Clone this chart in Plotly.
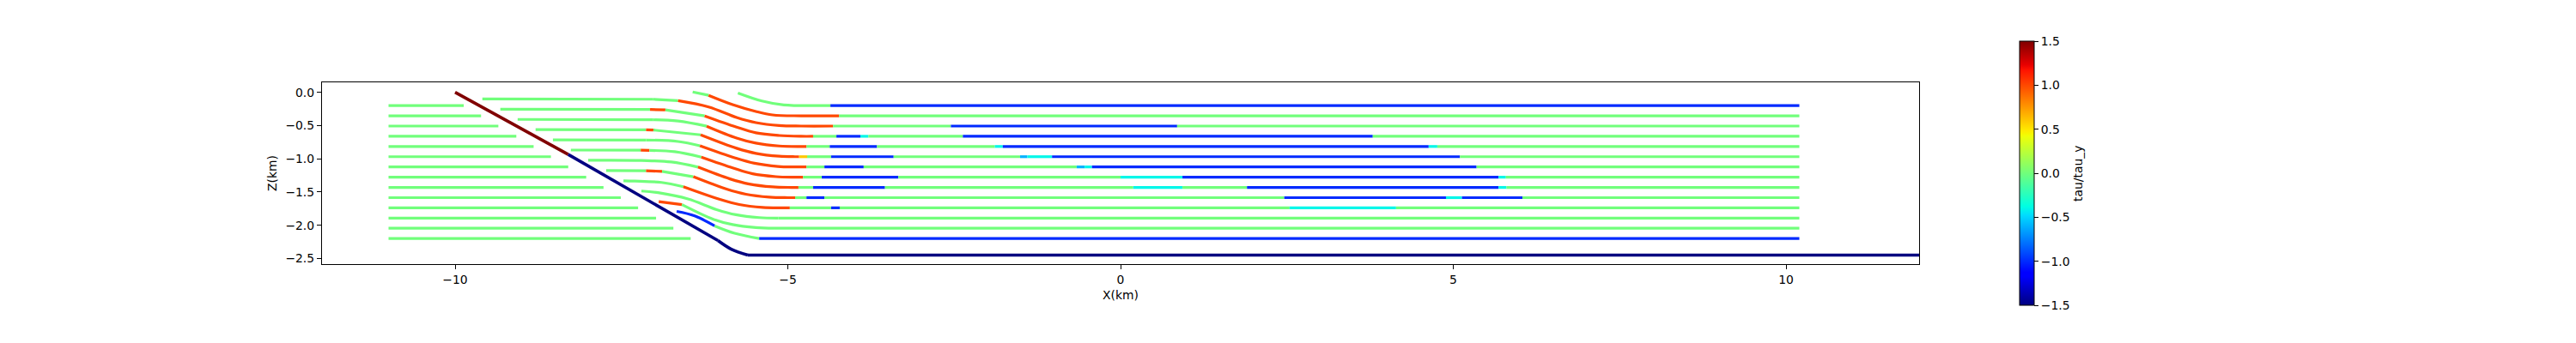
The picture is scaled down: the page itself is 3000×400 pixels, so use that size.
import plotly.graph_objects as go
from plotly.colors import sample_colorscale

# footwall layers, left of the ramp
footwall_z = [-0.2, -0.354, -0.508, -0.662, -0.815, -0.969, -1.123, -1.277, -1.431, -1.585, -1.738, -1.892, -2.046, -2.2]
footwall_x0 = -11.0
footwall_end = [-9.87, -9.61, -9.35, -9.08, -8.82, -8.56, -8.30, -8.03, -7.77, -7.51, -7.25, -6.98, -6.72, -6.46]

# hanging wall layers: tau[n] belongs to the stretch from point n to point n+1
a_x = [-5.75, -5.39, -5.06, -4.45, -4.36, 10.2]
a_z = [-0.01, -0.13, -0.19, -0.2, -0.2, -0.2]
a_t = [0, 0, 0, 0, -1, -1]
b_x = [-6.43, -6.19, -5.83, -5.48, -5.23, -4.8, -4.23, 10.2]
b_z = [0.005, -0.046, -0.185, -0.288, -0.34, -0.354, -0.354, -0.354]
b_t = [0, 1, 1, 1, 1, 1, 0, 0]
c_x = [-9.59, -7.03, -6.65, -6.19, -5.77, -5.48, -5.13, -4.8, -4.32, -2.55, 0.85, 10.2]
c_z = [-0.1, -0.105, -0.125, -0.22, -0.38, -0.457, -0.5, -0.508, -0.508, -0.508, -0.508, -0.508]
c_t = [0, 0, 1, 1, 1, 1, 1, 1, 0, -1, 0, 0]
d_x = [-9.32, -7.07, -6.84, -6.25, -5.78, -5.48, -5.13, -4.8, -4.62, -4.27, -3.91, -3.79, -2.37, 3.79, 10.2]
d_z = [-0.254, -0.258, -0.265, -0.355, -0.52, -0.61, -0.65, -0.662, -0.662, -0.662, -0.662, -0.662, -0.662, -0.662, -0.662]
d_t = [0, 1, 0, 1, 1, 1, 1, 1, 0, -1, -0.4, 0, -1, 0, 0]
e_x = [-9.06, -7.03, -6.65, -6.22, -5.77, -5.48, -5.13, -4.8, -4.72, -4.37, -3.66, -1.89, -1.77, 4.63, 4.76, 10.2]
e_z = [-0.408, -0.413, -0.433, -0.51, -0.688, -0.765, -0.808, -0.815, -0.815, -0.815, -0.815, -0.815, -0.815, -0.815, -0.815, -0.815]
e_t = [0, 0, 0, 1, 1, 1, 1, 1, 0, -1, 0, -0.4, -1, -0.4, 0, 0]
f_x = [-8.79, -7.13, -7.02, -6.31, -5.77, -5.48, -5.13, -4.89, -4.83, -4.71, -4.35, -3.41, -1.51, -1.40, -1.03, 5.1, 10.2]
f_z = [-0.562, -0.565, -0.568, -0.64, -0.842, -0.919, -0.962, -0.969, -0.969, -0.969, -0.969, -0.969, -0.969, -0.969, -0.969, -0.969, -0.969]
f_t = [0, 1, 0, 1, 1, 1, 1, 1, 0.6, 0, -1, 0, -0.6, -0.4, -1, 0, 0]
g_x = [-8.53, -7.13, -6.65, -6.32, -5.8, -5.5, -5.15, -4.9, -4.72, -4.45, -3.86, -0.66, -0.54, -0.43, 5.35, 10.2]
g_z = [-0.715, -0.718, -0.74, -0.805, -0.985, -1.068, -1.115, -1.123, -1.123, -1.123, -1.123, -1.123, -1.123, -1.123, -1.123, -1.123]
g_t = [0, 0, 0, 1, 1, 1, 1, 1, 0, -1, 0, -0.6, -0.4, -1, 0, 0]
h_x = [-8.26, -7.21, -7.08, -6.7, -6.3, -5.82, -5.53, -5.18, -4.9, -4.77, -4.49, -3.34, 0.0, 0.93, 5.68, 5.79, 10.2]
h_z = [-0.869, -0.871, -0.874, -0.894, -0.975, -1.14, -1.226, -1.269, -1.277, -1.277, -1.277, -1.277, -1.277, -1.277, -1.277, -1.277, -1.277]
h_t = [0, 1, 0, 0, 1, 1, 1, 1, 1, 0, -1, 0, -0.4, -1, -0.4, 0, 0]
i_x = [-8.0, -7.2, -6.75, -6.35, -5.87, -5.58, -5.23, -4.95, -4.84, -4.62, -3.54, 0.19, 0.93, 1.9, 5.68, 5.8, 10.2]
i_z = [-1.023, -1.026, -1.048, -1.125, -1.303, -1.38, -1.423, -1.431, -1.431, -1.431, -1.431, -1.431, -1.431, -1.431, -1.431, -1.431, -1.431]
i_t = [0, 0, 0, 1, 1, 1, 1, 1, 0, -1, 0, -0.4, 0, -1, -0.4, 0, 0]
j_x = [-7.73, -7.13, -6.89, -6.42, -5.92, -5.63, -5.28, -5.0, -4.89, -4.72, -4.45, 2.46, 4.89, 5.13, 6.04, 10.2]
j_z = [-1.177, -1.18, -1.19, -1.27, -1.457, -1.534, -1.577, -1.585, -1.585, -1.585, -1.585, -1.585, -1.585, -1.585, -1.585, -1.585]
j_t = [0, 1, 0, 1, 1, 1, 1, 1, 0, -1, 0, -1, -0.4, -1, 0, 0]
k_x = [-7.47, -7.3, -6.9, -6.57, -6.02, -5.73, -5.38, -5.1, -4.97, -4.35, -4.22, 2.54, 4.14, 10.2]
k_z = [-1.331, -1.335, -1.356, -1.42, -1.611, -1.688, -1.731, -1.738, -1.738, -1.738, -1.738, -1.738, -1.738, -1.738]
k_t = [0, 0, 0, 1, 1, 1, 1, 1, 0, -1, 0, -0.4, 0, 0]
l_x = [-7.2, -6.95, -6.5, -6.07, -5.78, -5.43, -5.14, 10.2]
l_z = [-1.485, -1.51, -1.605, -1.765, -1.842, -1.885, -1.892, -1.892]
l_t = [0, 0, 0, 0, 0, 0, 0, 0]
m_x = [-6.94, -6.59, -6.12, -5.83, -5.48, -5.2, 10.2]
m_z = [-1.645, -1.69, -1.91, -1.99, -2.035, -2.046, -2.046]
m_t = [1, 0, 0, 0, 0, 0, 0]
n_x = [-6.67, -6.4, -6.1, -5.8, -5.43, 10.2]
n_z = [-1.792, -1.86, -2.01, -2.12, -2.2, -2.2]
n_t = [-1, -1, 0, 0, -1, -1]

# fault
fault_x = [-10.0, -8.3, -6.05, -5.85, -5.6, 12.0]
fault_z = [0.0, -0.935, -2.23, -2.36, -2.45, -2.45]
fault_t = [1.5, -1.5, -1.5, -1.5, -1.5, -1.5]

x_ticks = [-10, -5, 0, 5, 10]
z_ticks = [0.0, -0.5, -1.0, -1.5, -2.0, -2.5]
bar_ticks = [-1.5, -1.0, -0.5, 0.0, 0.5, 1.0, 1.5]
tau_min, tau_max = -1.5, 1.5

JET = [[0, "rgb(0,0,128)"], [0.11, "rgb(0,0,255)"], [0.125, "rgb(0,0,255)"],
       [0.34, "rgb(0,219,255)"], [0.35, "rgb(0,230,247)"], [0.375, "rgb(0,255,226)"],
       [0.64, "rgb(239,255,8)"], [0.65, "rgb(247,246,0)"], [0.66, "rgb(255,236,0)"],
       [0.89, "rgb(255,19,0)"], [0.91, "rgb(232,0,0)"], [1, "rgb(128,0,0)"]]


def colour(t):
    return sample_colorscale(JET, [(t - tau_min) / (tau_max - tau_min)])[0]


fig = go.Figure()


def piece(xs, zs, t, width, shape):
    fig.add_trace(go.Scatter(
        x=xs, y=zs, mode="lines", line=dict(color=colour(t), width=width, shape=shape),
        showlegend=False, hoverinfo="skip"))


def draw(xs, zs, ts, width):
    # runs of one colour; long straight stretches are kept apart from the short curved ones
    start = 0
    for n in range(1, len(xs)):
        long_step = xs[n] - xs[n - 1] > 0.9
        next_long = n < len(xs) - 1 and xs[n + 1] - xs[n] > 0.9
        if n == len(xs) - 1 or ts[n] != ts[start] or long_step or next_long:
            piece(xs[start:n + 1], zs[start:n + 1], ts[start], width, "linear" if long_step else "spline")
            start = n


for z, end in zip(footwall_z, footwall_end):
    draw([footwall_x0, end], [z, z], [0, 0], 3.2)
for xs, zs, ts in [(a_x, a_z, a_t), (b_x, b_z, b_t), (c_x, c_z, c_t), (d_x, d_z, d_t),
                   (e_x, e_z, e_t), (f_x, f_z, f_t), (g_x, g_z, g_t), (h_x, h_z, h_t),
                   (i_x, i_z, i_t), (j_x, j_z, j_t), (k_x, k_z, k_t), (l_x, l_z, l_t),
                   (m_x, m_z, m_t), (n_x, n_z, n_t)]:
    draw(xs, zs, ts, 3.2)
draw(fault_x, fault_z, fault_t, 3.6)

fig.add_trace(go.Scatter(
    x=[None, None], y=[None, None], mode="markers", showlegend=False, hoverinfo="skip",
    marker=dict(color=[tau_min, tau_max], cmin=tau_min, cmax=tau_max, colorscale=JET, showscale=True,
                colorbar=dict(xref="container", yref="container", x=2352 / 3000, xanchor="left",
                              y=44 / 400, yanchor="bottom", lenmode="pixels", len=308,
                              thicknessmode="pixels", thickness=17, outlinecolor="black", outlinewidth=1,
                              xpad=0, ypad=0, tickmode="array", tickvals=bar_ticks, tickformat=".1f",
                              ticks="outside", ticklen=5, tickcolor="black", tickwidth=1,
                              tickfont=dict(family="DejaVu Sans", size=13.9, color="black"))))
)

axis = dict(showgrid=False, zeroline=False, showline=True, mirror=True, linecolor="black", linewidth=1.2,
            ticks="outside", ticklen=5, tickwidth=1.1, tickcolor="black",
            tickfont=dict(family="DejaVu Sans", size=13.9, color="black"))
title_font = dict(family="DejaVu Sans", size=13.9, color="black")
fig.update_layout(
    width=3000, height=400, margin=dict(l=0, r=0, t=0, b=0, autoexpand=False),
    paper_bgcolor="white", plot_bgcolor="white",
    showlegend=False, font=dict(family="DejaVu Sans", size=13.9, color="black"),
    xaxis=dict(axis, domain=[375 / 3000, 2235 / 3000], range=[-12, 12], tickmode="array", tickvals=x_ticks,
               tickformat="d", automargin=False, title=dict(text="X(km)", standoff=6, font=title_font)),
    yaxis=dict(axis, domain=[92 / 400, 304 / 400], range=[-2.585, 0.15], tickmode="array", tickvals=z_ticks,
               tickformat=".1f", automargin=False, title=dict(text="Z(km)", standoff=6, font=title_font)),
    annotations=[dict(text="tau/tau_y", textangle=-90, xref="paper", yref="paper",
                      x=2420 / 3000, y=(400 - 203) / 400, xanchor="center", yanchor="middle",
                      showarrow=False, font=title_font)],
)
fig.write_html("out.html", post_script="document.body.style.margin='0';",
               config=dict(displayModeBar=False))
